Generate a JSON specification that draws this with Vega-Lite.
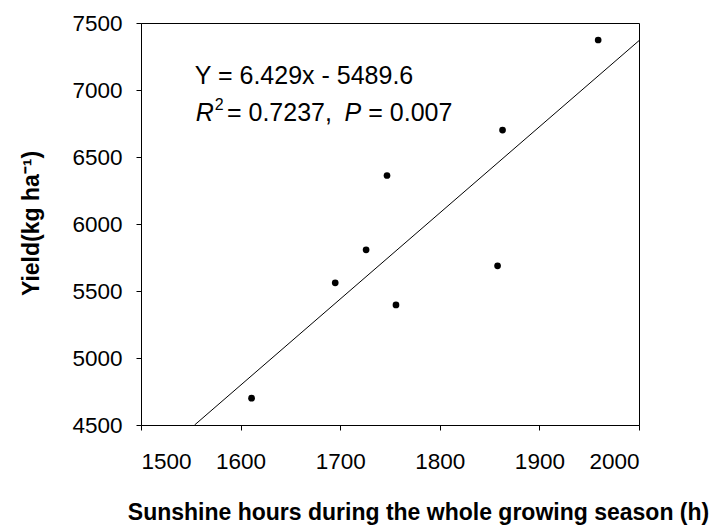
{
  "$schema": "https://vega.github.io/schema/vega-lite/v6.json",
  "width": 498,
  "height": 402,
  "autosize": "none",
  "padding": {"left": 141, "top": 23, "right": 74, "bottom": 104},
  "background": "white",
  "config": {
    "font": "Liberation Sans",
    "view": {"stroke": "black", "strokeWidth": 1},
    "axis": {
      "grid": false,
      "domainColor": "black",
      "tickColor": "black",
      "tickSize": 5,
      "labelFont": "Liberation Sans",
      "labelFontSize": 22.5,
      "labelColor": "black",
      "titleFont": "Liberation Sans",
      "titleFontSize": 23,
      "titleFontWeight": "bold",
      "titleColor": "black"
    }
  },
  "datasets": {
    "pts": [
      {"sunshine": 1611, "yield": 4700},
      {"sunshine": 1695, "yield": 5561},
      {"sunshine": 1726, "yield": 5807},
      {"sunshine": 1747, "yield": 6362},
      {"sunshine": 1756, "yield": 5396},
      {"sunshine": 1858, "yield": 5688},
      {"sunshine": 1863, "yield": 6701},
      {"sunshine": 1959, "yield": 7373}
    ],
    "fit": [
      {"sunshine": 1553.8, "yield": 4500},
      {"sunshine": 2000, "yield": 7368.4}
    ]
  },
  "layer": [
    {
      "data": {"name": "fit"},
      "mark": {"type": "line", "color": "black", "strokeWidth": 1},
      "encoding": {
        "x": {
          "field": "sunshine", "type": "quantitative",
          "scale": {"domain": [1500, 2000], "nice": false, "zero": false},
          "axis": {
            "values": [1500, 1600, 1700, 1800, 1900, 2000],
            "format": "d",
            "title": "Sunshine hours during the whole growing season (h)",
            "labelBaseline": "alphabetic",
            "labelPadding": 38,
            "titleX": 277,
            "titleY": 94,
            "titleBaseline": "alphabetic",
            "titleAnchor": null
          }
        },
        "y": {
          "field": "yield", "type": "quantitative",
          "scale": {"domain": [4500, 7500], "nice": false, "zero": false},
          "axis": {
            "values": [4500, 5000, 5500, 6000, 6500, 7000, 7500],
            "format": "d",
            "title": "Yield(kg ha⁻¹)",
            "labelPadding": 14,
            "titleX": -103,
            "titleY": 200,
            "titleBaseline": "alphabetic",
            "titleAngle": -90
          }
        }
      }
    },
    {
      "data": {"name": "pts"},
      "mark": {"type": "point", "filled": true, "color": "black", "size": 45, "opacity": 1},
      "encoding": {
        "x": {"field": "sunshine", "type": "quantitative"},
        "y": {"field": "yield", "type": "quantitative"}
      }
    },
    {
      "data": {"values": [{"t": "Y = 6.429x - 5489.6"}]},
      "mark": {"type": "text", "align": "left", "baseline": "alphabetic", "fontSize": 25, "font": "Liberation Sans", "color": "black"},
      "encoding": {"x": {"datum": 1554}, "y": {"datum": 7047}, "text": {"field": "t"}}
    },
    {
      "data": {"values": [{"t": "R"}]},
      "mark": {"type": "text", "align": "left", "baseline": "alphabetic", "fontSize": 25, "fontStyle": "italic", "font": "Liberation Sans", "color": "black"},
      "encoding": {"x": {"datum": 1555}, "y": {"datum": 6768}, "text": {"field": "t"}}
    },
    {
      "data": {"values": [{"t": "2"}]},
      "mark": {"type": "text", "align": "left", "baseline": "alphabetic", "fontSize": 16, "font": "Liberation Sans", "color": "black"},
      "encoding": {"x": {"datum": 1574}, "y": {"datum": 6848}, "text": {"field": "t"}}
    },
    {
      "data": {"values": [{"t": "= 0.7237,"}]},
      "mark": {"type": "text", "align": "left", "baseline": "alphabetic", "fontSize": 25, "font": "Liberation Sans", "color": "black"},
      "encoding": {"x": {"datum": 1586.3}, "y": {"datum": 6768}, "text": {"field": "t"}}
    },
    {
      "data": {"values": [{"t": "P"}]},
      "mark": {"type": "text", "align": "left", "baseline": "alphabetic", "fontSize": 25, "fontStyle": "italic", "font": "Liberation Sans", "color": "black"},
      "encoding": {"x": {"datum": 1704.4}, "y": {"datum": 6768}, "text": {"field": "t"}}
    },
    {
      "data": {"values": [{"t": "= 0.007"}]},
      "mark": {"type": "text", "align": "left", "baseline": "alphabetic", "fontSize": 25, "font": "Liberation Sans", "color": "black"},
      "encoding": {"x": {"datum": 1728.2}, "y": {"datum": 6768}, "text": {"field": "t"}}
    }
  ]
}
